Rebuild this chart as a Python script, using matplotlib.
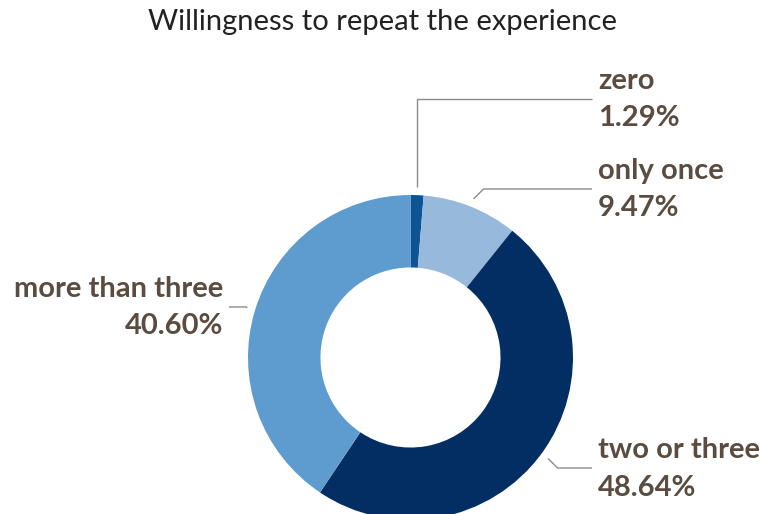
import numpy as np
import matplotlib
matplotlib.use('Agg')
import matplotlib.pyplot as plt

# data
categories = ['zero', 'only once', 'two or three', 'more than three']
shares = [1.29, 9.47, 48.64, 40.60]
pct_labels = ['1.29%', '9.47%', '48.64%', '40.60%']
colors = ['#0c5494', '#97b9db', '#032e63', '#5e9cd0']

title = 'Willingness to repeat the experience'
text_color = '#5a4c40'
line_color = '#8c8c8c'

plt.rcParams['font.family'] = ['Lato', 'DejaVu Sans']

W, H = 761, 514
fig = plt.figure(figsize=(W / 100, H / 100), dpi=100)
ax = fig.add_axes([0, 0, 1, 1])

wedges, _ = ax.pie(shares, colors=colors, startangle=90, counterclock=False,
                   radius=1.0, wedgeprops=dict(width=0.446, linewidth=0))

# pixel layout -> data units (radius 1 = 162.5 px)
cx, cy, R = 410.5, 357.5, 162.5
ax.set_xlim(-cx / R, (W - cx) / R)
ax.set_ylim(-(H - cy) / R, cy / R)
ax.set_aspect('equal')
ax.axis('off')

px = 1 / R
# leader y level and side for each label
leader_y = [1.591, 1.037, -0.680, 0.311]
side = [1, 1, 1, -1]
x_end = 1.117
x_text = 1.154

for i, w in enumerate(wedges):
    mid = np.deg2rad((w.theta1 + w.theta2) / 2)
    x0, y0 = 1.05 * np.cos(mid), 1.05 * np.sin(mid)
    ly = leader_y[i]
    s = side[i]
    if i == 0:
        xs = [x0, x0, x_end]
        ys = [y0, ly, ly]
    else:
        d = ly - y0
        ex = x0 + s * abs(d)
        xs = [x0, ex, s * x_end]
        ys = [y0, ly, ly]
    ax.plot(xs, ys, color=line_color, lw=1.0, solid_capstyle='butt')
    ha = 'left' if s > 0 else 'right'
    ax.text(s * x_text, ly + 18 * px, categories[i], ha=ha, va='center',
            fontsize=21, color=text_color, fontweight='bold')
    ax.text(s * x_text, ly - 19.5 * px, pct_labels[i], ha=ha, va='center',
            fontsize=21, color=text_color, fontweight='bold')

fig.text(383 / W, 1 - 22 / H, title, ha='center', va='center',
         fontsize=21, color='#222222')

fig.savefig('out.png', dpi=100)
